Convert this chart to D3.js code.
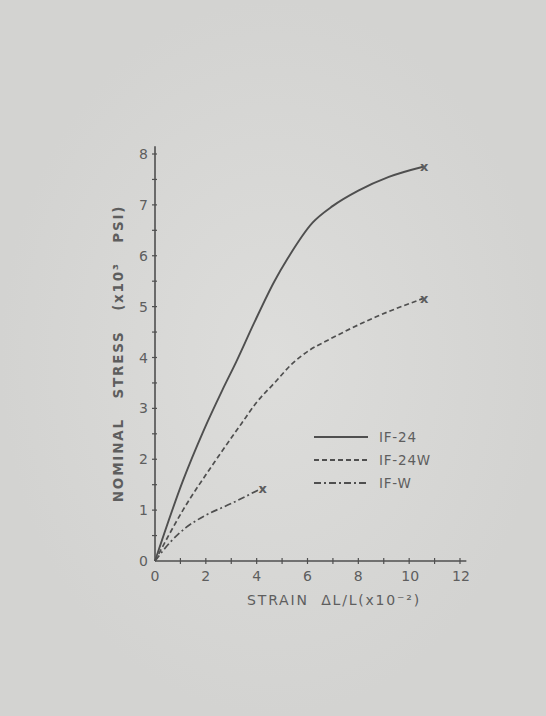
<!DOCTYPE html>
<html>
<head>
<meta charset="utf-8">
<script src="https://cdn.jsdelivr.net/npm/d3@7"></script>
<style>
  body { margin: 0; background: #d6d6d4; }
  svg { display: block; }
  text { font-family: "DejaVu Sans", sans-serif; fill: #5e5e5e; }
</style>
</head>
<body>
<svg width="546" height="716"></svg>
<script>
const svg = d3.select("svg");

// strain (x10^-2) vs nominal stress (x10^3 psi)
const if24Strain  = [0, 1.1, 1.9, 2.65, 3.2, 3.9, 4.7, 5.2, 6.2, 7.0, 8.0, 9.2, 10.55];
const if24Stress  = [0, 1.58, 2.55, 3.36, 3.92, 4.68, 5.5, 5.93, 6.65, 6.98, 7.28, 7.55, 7.75];
const if24wStrain = [0, 1.1, 2.35, 3.4, 4.0, 4.7, 5.4, 6.1, 6.8, 8.7, 10.55];
const if24wStress = [0, 1.0, 1.95, 2.7, 3.12, 3.5, 3.88, 4.15, 4.34, 4.8, 5.16];
const ifwStrain   = [0, 0.6, 1.2, 2.0, 3.0, 4.2];
const ifwStress   = [0, 0.37, 0.65, 0.9, 1.13, 1.43];

const xTicks = [0, 2, 4, 6, 8, 10, 12];
const yTicks = [0, 1, 2, 3, 4, 5, 6, 7, 8];
const seriesNames = ["IF-24", "IF-24W", "IF-W"];
const dashes = ["none", "5,3", "7,3,2,3"];

// paper
const bg = svg.append("defs").append("radialGradient").attr("id", "paper");
bg.append("stop").attr("offset", "0%").attr("stop-color", "#dddddb");
bg.append("stop").attr("offset", "100%").attr("stop-color", "#d3d3d1");
svg.append("rect").attr("width", 546).attr("height", 716).attr("fill", "url(#paper)");

const x = d3.scaleLinear().domain([0, 12]).range([155, 460]);
const y = d3.scaleLinear().domain([0, 8]).range([561, 154]);

const ink = "#4f4f4f";

// axes
svg.append("line").attr("x1", x(0)).attr("x2", x(12.25)).attr("y1", y(0)).attr("y2", y(0))
  .attr("stroke", ink).attr("stroke-width", 1.6);
svg.selectAll(".xtick").data(d3.range(1, 13, 1)).join("line")
  .attr("x1", d => x(d)).attr("x2", d => x(d))
  .attr("y1", y(0) - 3).attr("y2", y(0) + 3)
  .attr("stroke", ink).attr("stroke-width", 1.2);
svg.selectAll(".xlab").data(xTicks).join("text")
  .attr("x", d => x(d) + (d >= 10 ? 1 : 0)).attr("y", y(0) + 20)
  .attr("text-anchor", "middle").attr("font-size", 14)
  .text(d => d);

svg.append("line").attr("x1", x(0)).attr("x2", x(0)).attr("y1", y(0)).attr("y2", y(8.15))
  .attr("stroke", ink).attr("stroke-width", 1.6);
svg.selectAll(".ytick").data(d3.range(0.5, 8.01, 0.5)).join("line")
  .attr("x1", x(0) - 3).attr("x2", x(0) + 2)
  .attr("y1", d => y(d)).attr("y2", d => y(d))
  .attr("stroke", ink).attr("stroke-width", 1.2);
svg.selectAll(".ylab").data(yTicks).join("text")
  .attr("x", x(0) - 7).attr("y", d => y(d) + 5)
  .attr("text-anchor", "end").attr("font-size", 14)
  .text(d => d);

// axis titles
svg.append("text")
  .attr("transform", `translate(123,${y(4) - 4}) rotate(-90)`)
  .attr("text-anchor", "middle").attr("font-size", 13.5).attr("font-weight", "bold")
  .attr("letter-spacing", 1.8).attr("xml:space", "preserve")
  .text("NOMINAL   STRESS   (x10³   PSI)");
svg.append("text")
  .attr("x", 334).attr("y", 605)
  .attr("text-anchor", "middle").attr("font-size", 14)
  .attr("letter-spacing", 1.8).attr("xml:space", "preserve")
  .text("STRAIN  ΔL/L(x10⁻²)");

// curves
const series = [
  d3.zip(if24Strain, if24Stress),
  d3.zip(if24wStrain, if24wStress),
  d3.zip(ifwStrain, ifwStress)
];
const line = d3.line().x(d => x(d[0])).y(d => y(d[1])).curve(d3.curveMonotoneX);

series.forEach((s, i) => {
  svg.append("path").attr("d", line(s))
    .attr("fill", "none").attr("stroke", ink).attr("stroke-width", i === 0 ? 1.9 : 1.7)
    .attr("stroke-dasharray", dashes[i]);
  const end = s[s.length - 1];
  svg.append("text").attr("x", x(end[0]) + 1).attr("y", y(end[1]) + 4.5)
    .attr("text-anchor", "middle").attr("font-size", 13).attr("font-weight", "bold")
    .attr("fill", ink)
    .text("x");
});

// legend
const leg = svg.append("g");
seriesNames.forEach((n, i) => {
  const ly = 437 + i * 23;
  leg.append("line").attr("x1", 314).attr("x2", 368).attr("y1", ly).attr("y2", ly)
    .attr("stroke", ink).attr("stroke-width", i === 0 ? 1.9 : 1.8)
    .attr("stroke-dasharray", dashes[i]);
  leg.append("text").attr("x", 379).attr("y", ly + 5)
    .attr("font-size", 13.5).attr("letter-spacing", 0.8)
    .text(n);
});
</script>
</body>
</html>
